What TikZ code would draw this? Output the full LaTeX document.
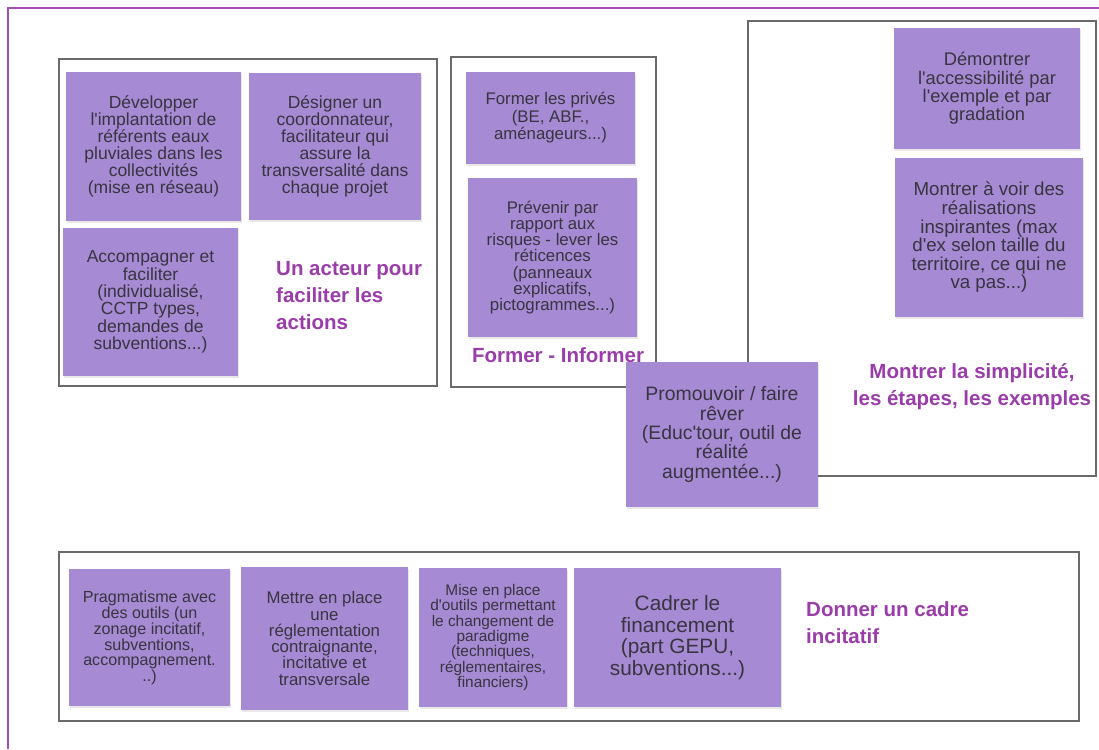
\documentclass[tikz,border=0pt]{standalone}
\usepackage{fontspec}
\setmainfont{Liberation Sans}
\usepackage{xcolor}
\usepackage{tikz}
\usetikzlibrary{shadows}
\definecolor{frame}{HTML}{A34DB5}
\definecolor{note}{HTML}{A68AD3}
\definecolor{ink}{HTML}{383440}
\definecolor{title}{HTML}{9A3CA9}
\definecolor{edge}{HTML}{6A6A6A}
\newcommand\fsz[2]{\fontsize{#1}{#2}\selectfont}
\newcommand\aps{\textquotesingle}
\tikzset{
  outer/.style={draw=frame, line width=2pt},
  group/.style={draw=edge, line width=1.1pt},
  card/.style={fill=note, text=ink, align=center, inner sep=0pt,
    drop shadow={opacity=0.18, shadow xshift=0.6pt, shadow yshift=-1.6pt}},
  head/.style={text=title, font=\bfseries\fsz{20.5}{27}, inner sep=0pt},
}

\begin{document}
\begin{tikzpicture}[x=1pt, y=-1pt]
  \useasboundingbox[fill=white] (0,0) rectangle (1099,749);
  % outer frame, runs off the page
  \draw[outer] (8,749) -- (8,8) -- (1099,8);

  % the four groups
  \draw[group] (59,59) rectangle (437,386);
  \draw[group] (451,57) rectangle (656,387);
  \draw[group] (748,21) rectangle (1096,476);
  \draw[group] (59,552) rectangle (1079,721);

  % un acteur pour faciliter les actions
  \node[card, minimum width=175, minimum height=149, font=\fsz{17.5}{17}] (dev) at (153.5,146.5)
    {Développer\\l\aps implantation de\\référents eaux\\pluviales dans les\\collectivités\\(mise en réseau)};
  \node[card, minimum width=172, minimum height=147, font=\fsz{17.5}{17}] (desig) at (335,146.5)
    {Désigner un\\coordonnateur,\\facilitateur qui\\assure la\\transversalité dans\\chaque projet};
  \node[card, minimum width=175, minimum height=148, font=\fsz{17.5}{17.3}] (accomp) at (150.5,302)
    {Accompagner et\\faciliter\\(individualisé,\\CCTP types,\\demandes de\\subventions...)};
  \node[head, anchor=west, align=left] (actLbl) at (276,296) {Un acteur pour\\faciliter les\\actions};

  % former - informer
  \node[card, minimum width=169, minimum height=92, font=\fsz{16.8}{17.5}] (formPriv) at (550.5,118)
    {Former les privés\\(BE, ABF.,\\aménageurs...)};
  \node[card, minimum width=169, minimum height=159, font=\fsz{16.8}{16.3}] (prevenir) at (552.5,257.5)
    {Prévenir par\\rapport aux\\risques - lever les\\réticences\\(panneaux\\explicatifs,\\pictogrammes...)};
  \node[head] (formLbl) at (558,355) {Former - Informer};

  % montrer la simplicite
  \node[card, minimum width=186, minimum height=121, font=\fsz{18.3}{18.3}] (demontrer) at (987,88.5)
    {Démontrer\\l\aps accessibilité par\\l\aps exemple et par\\gradation};
  \node[card, minimum width=188, minimum height=159, font=\fsz{18.7}{18.6}] (montrer) at (989,237.5)
    {Montrer à voir des\\réalisations\\inspirantes (max\\d\aps ex selon taille du\\territoire, ce qui ne\\va pas...)};
  \node[head, align=center] (montLbl) at (972,387) {Montrer la simplicité,\\les étapes, les exemples};
  \node[card, minimum width=192, minimum height=145, font=\fsz{19.4}{19.3}] (promouvoir) at (722,434.5)
    {Promouvoir / faire\\rêver\\(Educ\aps tour, outil de\\réalité\\augmentée...)};

  % donner un cadre incitatif
  \node[card, minimum width=161, minimum height=137, font=\fsz{16.1}{14.7}] (pragma) at (149.5,637.5)
    {Pragmatisme avec\\des outils (un\\zonage incitatif,\\subventions,\\accompagnement.\\..)};
  \node[card, minimum width=167, minimum height=143, font=\fsz{16.8}{16.3}] (mettre) at (324.5,638.5)
    {Mettre en place\\une\\réglementation\\contraignante,\\incitative et\\transversale};
  \node[card, minimum width=148, minimum height=139, font=\fsz{15.4}{14.3}] (mise) at (493,637.5)
    {Mise en place\\d\aps outils permettant\\le changement de\\paradigme\\(techniques,\\réglementaires,\\financiers)};
  \node[card, minimum width=207, minimum height=139, font=\fsz{20.8}{21.7}] (cadrer) at (677.5,637.5)
    {Cadrer le\\financement\\(part GEPU,\\subventions...)};
  \node[head, anchor=west, align=left] (cadLbl) at (806,623) {Donner un cadre\\incitatif};
\end{tikzpicture}
\end{document}
